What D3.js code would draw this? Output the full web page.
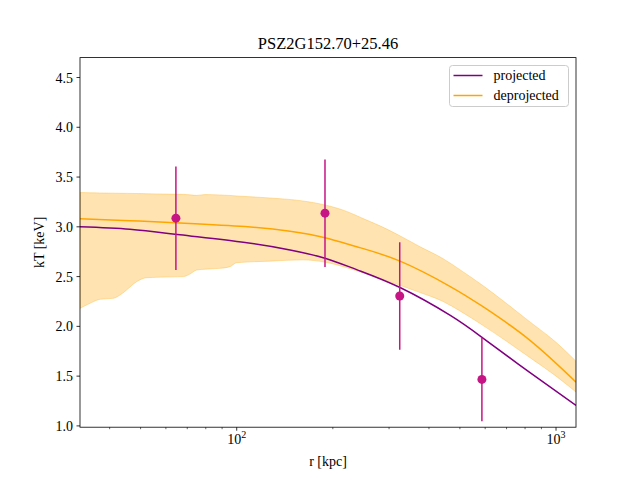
<!DOCTYPE html>
<html>
<head>
<meta charset="utf-8">
<script src="https://cdn.jsdelivr.net/npm/d3@7"></script>
<style>
  body { margin: 0; background: #fff; }
  text { font-family: "Liberation Serif", "DejaVu Serif", serif; fill: #000; }
</style>
</head>
<body>
<svg width="640" height="480"></svg>
<script>
// model curves, sampled in r [kpc]
const rGrid = [32.3, 46.3, 66.4, 106.2, 146.9, 189, 237.5, 324.7, 466.6, 589, 825, 1155];
const kTproj = [3.00, 2.975, 2.92, 2.842, 2.768, 2.685, 2.57, 2.39, 2.11, 1.885, 1.54, 1.205];
const kTdeproj = [3.08, 3.062, 3.038, 3.002, 2.955, 2.89, 2.80, 2.655, 2.40, 2.20, 1.865, 1.44];

// deprojected uncertainty band
const bandR = [32.3, 34.7, 37.3, 41.1, 43.1, 45.2, 47.5, 49.2, 52.3, 59.6, 68.1, 71.4, 74.9, 80, 88.6, 95.3, 100, 127, 161, 189, 221, 250, 281, 320, 375, 443, 500, 590, 700, 825, 1000, 1155];
const bandHi = [3.344, 3.342, 3.34, 3.338, 3.337, 3.336, 3.335, 3.334, 3.332, 3.329, 3.326, 3.321, 3.316, 3.324, 3.32, 3.315, 3.31, 3.29, 3.26, 3.22, 3.155, 3.08, 3.01, 2.92, 2.80, 2.68, 2.57, 2.41, 2.23, 2.05, 1.84, 1.65];
const bandLo = [2.181, 2.231, 2.272, 2.282, 2.315, 2.365, 2.426, 2.459, 2.489, 2.495, 2.50, 2.526, 2.566, 2.575, 2.583, 2.60, 2.64, 2.655, 2.668, 2.645, 2.59, 2.535, 2.48, 2.42, 2.34, 2.25, 2.155, 2.01, 1.85, 1.69, 1.50, 1.34];

// measured points
const rData = [64.5, 189, 324, 586];
const kTData = [3.087, 3.137, 2.305, 1.467];
const kTErr = [0.52, 0.54, 0.54, 0.42];

const yTicks = [1.0, 1.5, 2.0, 2.5, 3.0, 3.5, 4.0, 4.5];
const xMajor = [100, 1000];

const svg = d3.select("svg");
const mLeft = 80, mRight = 576, mTop = 57.6, mBottom = 427.2;

const x = d3.scaleLog().domain([32.3, 1155]).range([mLeft, mRight]);
const y = d3.scaleLinear().domain([0.987, 4.70]).range([mBottom, mTop]);

svg.append("defs").append("clipPath").attr("id", "clip")
  .append("rect").attr("x", mLeft).attr("y", mTop).attr("width", mRight - mLeft).attr("height", mBottom - mTop);

const plot = svg.append("g").attr("clip-path", "url(#clip)");

// band
const band = bandR.map((r, i) => ({ r, lo: bandLo[i], hi: bandHi[i] }));
plot.append("path")
  .datum(band)
  .attr("d", d3.area().x(d => x(d.r)).y0(d => y(d.lo)).y1(d => y(d.hi)).curve(d3.curveMonotoneX))
  .attr("fill", "#ffa500").attr("fill-opacity", 0.3)
  .attr("stroke", "#ffa500").attr("stroke-opacity", 0.3).attr("stroke-width", 1);

const line = d3.line().x(d => x(d[0])).y(d => y(d[1])).curve(d3.curveNatural);
plot.append("path").datum(rGrid.map((r, i) => [r, kTproj[i]]))
  .attr("d", line).attr("fill", "none").attr("stroke", "#800080").attr("stroke-width", 1.5);
plot.append("path").datum(rGrid.map((r, i) => [r, kTdeproj[i]]))
  .attr("d", line).attr("fill", "none").attr("stroke", "#ffa500").attr("stroke-width", 1.5);

// error bars + points
const pts = rData.map((r, i) => ({ r, v: kTData[i], e: kTErr[i] }));
plot.selectAll(".eb").data(pts).enter().append("line")
  .attr("x1", d => x(d.r)).attr("x2", d => x(d.r))
  .attr("y1", d => y(d.v - d.e)).attr("y2", d => y(d.v + d.e))
  .attr("stroke", "#c71585").attr("stroke-width", 1.5);
plot.selectAll(".pt").data(pts).enter().append("circle")
  .attr("cx", d => x(d.r)).attr("cy", d => y(d.v)).attr("r", 4.5)
  .attr("fill", "#c71585");

// axes
const ax = svg.append("g");
yTicks.forEach(t => {
  ax.append("line").attr("x1", mLeft - 3.5).attr("x2", mLeft)
    .attr("y1", y(t)).attr("y2", y(t)).attr("stroke", "#000").attr("stroke-width", 0.8);
  ax.append("text").attr("x", mLeft - 7).attr("y", y(t) + 5)
    .attr("text-anchor", "end").style("font-size", "14px").text(t.toFixed(1));
});

const minor = [];
[10, 100, 1000].forEach(dec => {
  for (let k = 2; k <= 9; k++) {
    const v = dec * k;
    if (v > 32.3 && v < 1155) minor.push(v);
  }
});
minor.forEach(t => {
  ax.append("line").attr("x1", x(t)).attr("x2", x(t))
    .attr("y1", mBottom).attr("y2", mBottom + 2).attr("stroke", "#000").attr("stroke-width", 0.6);
});
xMajor.forEach(t => {
  ax.append("line").attr("x1", x(t)).attr("x2", x(t))
    .attr("y1", mBottom).attr("y2", mBottom + 3.5).attr("stroke", "#000").attr("stroke-width", 0.8);
  const tx = ax.append("text").attr("x", x(t)).attr("y", mBottom + 17)
    .attr("text-anchor", "middle").style("font-size", "14px");
  tx.append("tspan").text("10");
  tx.append("tspan").attr("dy", -6).style("font-size", "10px").text(Math.round(Math.log10(t)));
});

svg.append("rect").attr("x", mLeft).attr("y", mTop).attr("width", mRight - mLeft).attr("height", mBottom - mTop)
  .attr("fill", "none").attr("stroke", "#000").attr("stroke-width", 0.8);

// labels
svg.append("text").attr("x", (mLeft + mRight) / 2).attr("y", 466)
  .attr("text-anchor", "middle").style("font-size", "14px").text("r [kpc]");
svg.append("text").attr("transform", `translate(44,${(mTop + mBottom) / 2}) rotate(-90)`)
  .attr("text-anchor", "middle").style("font-size", "14px").text("kT [keV]");
svg.append("text").attr("x", (mLeft + mRight) / 2).attr("y", 49)
  .attr("text-anchor", "middle").style("font-size", "16.5px").text("PSZ2G152.70+25.46");

// legend
const lg = svg.append("g").attr("transform", "translate(449.5,65.5)");
lg.append("rect").attr("width", 119).attr("height", 41).attr("rx", 3)
  .attr("fill", "#fff").attr("fill-opacity", 0.8).attr("stroke", "#ccc").attr("stroke-width", 1);
[["projected", "#800080"], ["deprojected", "#ffa500"]].forEach((d, i) => {
  const yy = 10 + i * 20;
  lg.append("line").attr("x1", 4).attr("x2", 33).attr("y1", yy).attr("y2", yy)
    .attr("stroke", d[1]).attr("stroke-width", 1.5);
  lg.append("text").attr("x", 44).attr("y", yy + 4.5).style("font-size", "14px").text(d[0]);
});
</script>
</body>
</html>
